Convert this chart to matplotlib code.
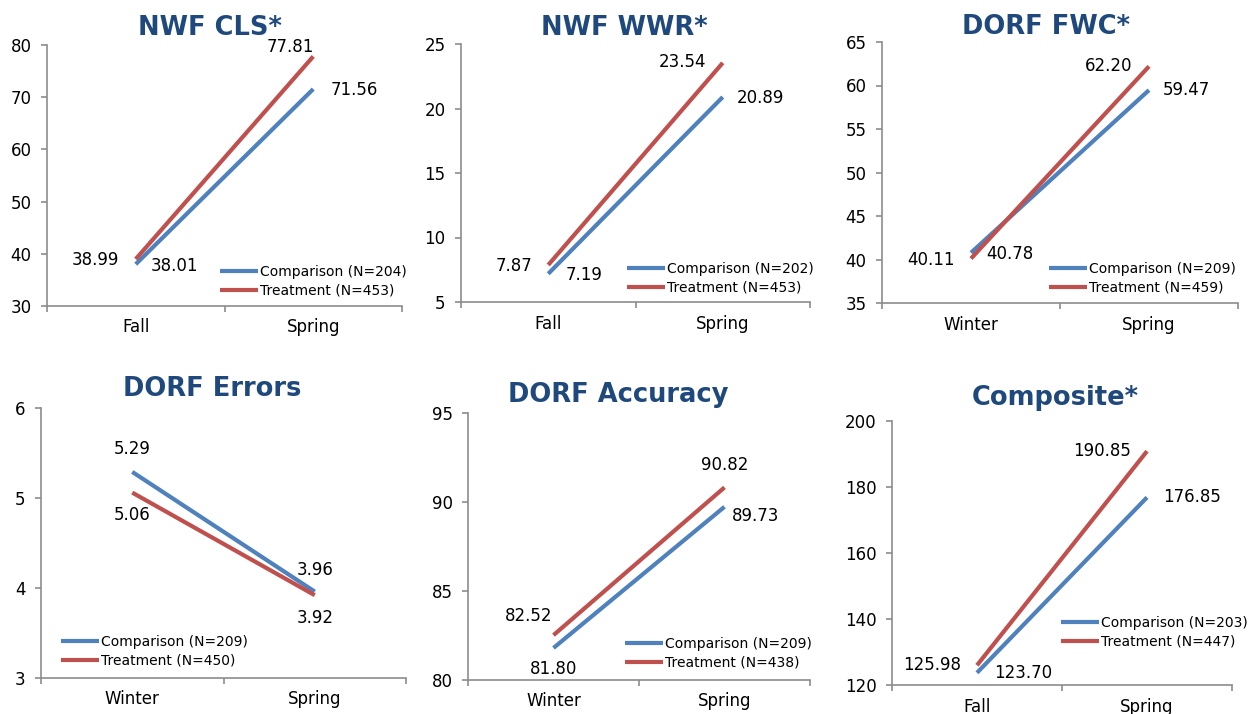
import matplotlib
matplotlib.use("Agg")
import matplotlib.pyplot as plt
import numpy as np

# data
titles = ["NWF CLS*", "NWF WWR*", "DORF FWC*", "DORF Errors", "DORF Accuracy", "Composite*"]
seasons = [["Fall", "Spring"], ["Fall", "Spring"], ["Winter", "Spring"],
           ["Winter", "Spring"], ["Winter", "Spring"], ["Fall", "Spring"]]
comparison = [[38.01, 71.56], [7.19, 20.89], [40.78, 59.47],
              [5.29, 3.96], [81.80, 89.73], [123.70, 176.85]]
treatment = [[38.99, 77.81], [7.87, 23.54], [40.11, 62.20],
             [5.06, 3.92], [82.52, 90.82], [125.98, 190.85]]
n_comparison = [204, 202, 209, 209, 209, 203]
n_treatment = [453, 453, 459, 450, 438, 447]
y_ranges = [(30, 80, 10), (5, 25, 5), (35, 65, 5), (3, 6, 1), (80, 95, 5), (120, 200, 20)]

W, H = 1251, 714
BLUE = "#4F81BD"
RED = "#C0504D"
TITLE_COL = "#1F497D"
GRAY = "#8C8C8C"

# layout in pixels: left, top, right, bottom
boxes = [(47, 45, 402, 306), (461, 44, 810, 302), (882, 42, 1238, 303),
         (41, 408, 406, 678), (468, 413, 810, 680), (892, 421, 1232, 685)]
title_pos = [(210, 35), (624, 35), (1046, 34), (212, 396), (618, 402), (1055, 405)]
legend_pos = [(220, 281), (627, 278), (1049, 278), (61, 651), (625, 653), (1061, 632)]
# label offsets (ha, dx, dy) for [comp0, comp1], [treat0, treat1]
comp_lbl = [
    [("left", 15, -2), ("left", 17, -1)],
    [("left", 17, -1), ("left", 14, -1)],
    [("left", 15, -1), ("left", 14, 0)],
    [("center", 0, 23), ("center", 0, 22)],
    [("center", 0, -21), ("left", 7, -9)],
    [("left", 17, 0), ("left", 16, 0)],
]
treat_lbl = [
    [("right", -17, -1), ("right", 1, 9)],
    [("right", -16, -1), ("right", -17, 1)],
    [("right", -16, -1), ("right", -17, 0)],
    [("center", 0, -22), ("center", 0, -23)],
    [("center", -25, 19), ("center", 0, 22)],
    [("right", -16, 0), ("right", -16, 0)],
]

plt.rcParams['font.family'] = ['DejaVu Sans']

fig = plt.figure(figsize=(W / 100, H / 100), dpi=100)

for i in range(6):
    l, t, r, b = boxes[i]
    ax = fig.add_axes([l / W, 1 - b / H, (r - l) / W, (b - t) / H])
    x = np.arange(2)
    ax.plot(x, comparison[i], color=BLUE, lw=3, solid_capstyle="butt",
            label="Comparison (N=%d)" % n_comparison[i])
    ax.plot(x, treatment[i], color=RED, lw=3, solid_capstyle="butt",
            label="Treatment (N=%d)" % n_treatment[i])

    lo, hi, step = y_ranges[i]
    ax.set_ylim(lo, hi)
    ax.set_yticks(np.arange(lo, hi + step / 2, step))
    ax.set_xlim(-0.5, 1.5)
    ax.set_xticks([-0.5, 0.5, 1.5])
    ax.set_xticklabels([])
    ax.set_xticks([0, 1], minor=True)
    ax.set_xticklabels(seasons[i], minor=True)

    for s in ["top", "right"]:
        ax.spines[s].set_visible(False)
    for s in ["left", "bottom"]:
        ax.spines[s].set_color(GRAY)
        ax.spines[s].set_linewidth(1.2)
    ax.tick_params(axis="x", which="major", length=4, color=GRAY, width=1.2)
    ax.tick_params(axis="x", which="minor", length=0, pad=9, labelsize=12)
    ax.tick_params(axis="y", length=4, color=GRAY, width=1.2, pad=7, labelsize=12)

    for j in range(2):
        ha, dx, dy = comp_lbl[i][j]
        ax.annotate("%.2f" % comparison[i][j], (j, comparison[i][j]), xytext=(dx, dy),
                    textcoords="offset pixels", ha=ha, va="center", fontsize=12)
        ha, dx, dy = treat_lbl[i][j]
        ax.annotate("%.2f" % treatment[i][j], (j, treatment[i][j]), xytext=(dx, dy),
                    textcoords="offset pixels", ha=ha, va="center", fontsize=12)

    lx, ly = legend_pos[i]
    ax.legend(loc="center left", bbox_to_anchor=(lx / W, 1 - ly / H),
              bbox_transform=fig.transFigure, frameon=False, fontsize=10,
              handlelength=2.7, handletextpad=0.15, borderpad=0, borderaxespad=0,
              labelspacing=0.35)

    tx, ty = title_pos[i]
    fig.text(tx / W, 1 - ty / H, titles[i], ha="center", va="baseline",
             fontsize=18.5, fontweight="bold", color=TITLE_COL)

fig.savefig("out.png", dpi=100)
